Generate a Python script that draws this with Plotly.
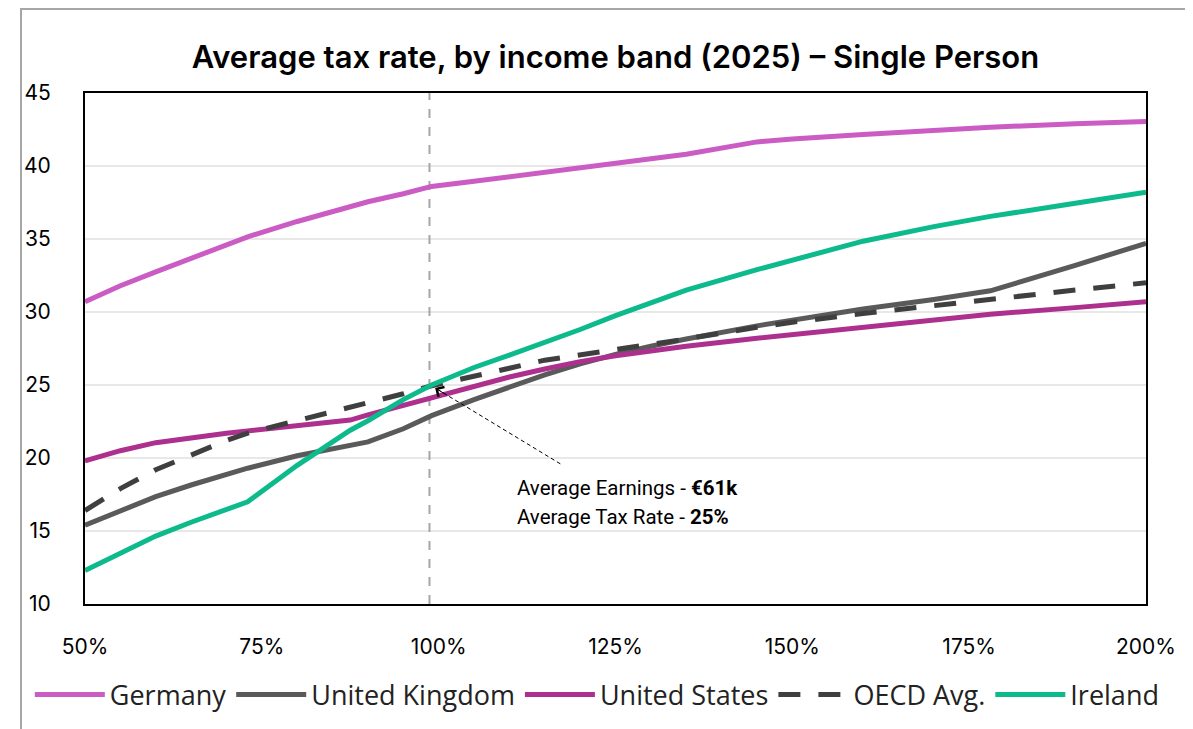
import plotly.graph_objects as go

# Income as % of average earnings
income_pct = [50, 55, 60, 65, 70, 73, 80, 87.5, 90, 95, 99, 105, 110, 115, 120,
              125, 130, 135, 145, 150, 160, 170, 178, 190, 200]

germany = [30.7, 31.8, 32.75, 33.7, 34.6, 35.15, 36.2, 37.2, 37.55, 38.1, 38.6, 38.95,
           39.25, 39.55, 39.85, 40.15, 40.45, 40.8, 41.65, 41.85, 42.15, 42.45, 42.65, 42.9, 43.05]
united_kingdom = [15.4, 16.4, 17.35, 18.15, 18.9, 19.3, 20.15, 20.85, 21.1, 22.0, 22.9, 24.0,
                  24.85, 25.7, 26.45, 27.1, 27.65, 28.15, 29.05, 29.45, 30.2, 30.85, 31.45, 33.2, 34.7]
united_states = [19.8, 20.5, 21.05, 21.4, 21.7, 21.85, 22.2, 22.6, 22.95, 23.6, 24.15, 24.9,
                 25.55, 26.1, 26.6, 27.0, 27.35, 27.65, 28.2, 28.45, 28.95, 29.45, 29.85, 30.3, 30.7]
oecd_avg = [16.4, 17.9, 19.2, 20.2, 21.2, 21.7, 22.55, 23.5, 23.8, 24.4, 24.95, 25.65,
            26.15, 26.7, 27.05, 27.45, 27.8, 28.15, 28.95, 29.3, 29.9, 30.45, 30.85, 31.5, 32.0]
ireland = [12.3, 13.5, 14.65, 15.6, 16.45, 17.0, 19.5, 21.9, 22.55, 24.0, 25.0, 26.2,
           27.05, 27.9, 28.8, 29.75, 30.65, 31.5, 32.9, 33.55, 34.85, 35.85, 36.55, 37.45, 38.2]

x_ticks = [50, 75, 100, 125, 150, 175, 200]
x_ticktext = ["50%", "75%", "100%", "125%", "150%", "175%", "200%"]
y_ticks = [10, 15, 20, 25, 30, 35, 40, 45]

avg_line_x = 98.7
arrow_head = (99.5, 24.8)
arrow_tail = (117.2, 19.6)
note_lines = ["Average Earnings - <b>€61k</b>", "Average Tax Rate - <b>25%</b>"]
note_pos = [(110.8, 17.93), (110.8, 15.95)]

series = [
    ("Germany", germany, "#CA5CC4", "solid"),
    ("United Kingdom", united_kingdom, "#5A5A5A", "solid"),
    ("United States", united_states, "#AD2F8E", "solid"),
    ("OECD Avg.", oecd_avg, "#3F3F3F", "22px,18px"),
    ("Ireland", ireland, "#0DBA8C", "solid"),
]

fig = go.Figure()
for name, vals, color, dash in series:
    fig.add_trace(go.Scatter(
        x=income_pct, y=vals, name=name, mode="lines",
        line=dict(color=color, width=5, dash=dash),
        hoverinfo="skip",
    ))

W, H = 1185, 721
L, T, PW, PH = 77, 85, 1061, 511

fig.update_layout(
    width=W, height=H,
    margin=dict(l=L, r=W - L - PW, t=T, b=H - T - PH, autoexpand=False),
    paper_bgcolor="white", plot_bgcolor="white",
    title=dict(
        text="Average tax rate, by income band (2025) – Single Person",
        font=dict(family="Inter", size=31, color="black", weight=600),
        x=0.5, xref="paper", xanchor="center",
        y=1 - 49 / H, yref="container", yanchor="middle",
    ),
    legend=dict(
        orientation="h", x=-0.052, xanchor="left", y=-0.178, yanchor="middle",
        font=dict(family="Open Sans", size=27, color="#222222"),
        itemwidth=70, bgcolor="rgba(0,0,0,0)", tracegroupgap=0,
    ),
    showlegend=True,
)

fig.update_xaxes(
    range=[50, 200], tickvals=x_ticks, ticktext=x_ticktext,
    showgrid=False, zeroline=False, automargin=False,
    showline=True, linecolor="black", linewidth=2, mirror=True,
    ticks="", ticklabelstandoff=23,
    tickfont=dict(family="Inter", size=21, color="black"),
)
fig.update_yaxes(
    range=[10, 45], tickvals=y_ticks, automargin=False,
    showgrid=True, gridcolor="#E8E8E8", gridwidth=2, zeroline=False,
    showline=True, linecolor="black", linewidth=2, mirror=True,
    ticks="", ticklabelstandoff=28,
    tickfont=dict(family="Inter", size=21, color="black"),
)

# outer grey frame
fig.add_shape(type="rect", xref="paper", yref="paper",
              x0=(13 - L) / PW, x1=(1183.5 - L) / PW,
              y0=(T + PH - 735) / PH, y1=(T + PH - 1) / PH,
              line=dict(color="#A6A6A6", width=2), fillcolor="rgba(0,0,0,0)",
              layer="below")

# white box behind note
fig.add_shape(type="rect", xref="paper", yref="paper",
              x0=(497 - 85) / PW, x1=(855 - 85) / PW,
              y0=(604 - 545) / PH, y1=(604 - 466) / PH,
              line=dict(width=0), fillcolor="white", layer="between")

# average earnings vertical dashed line
fig.add_shape(type="line", x0=avg_line_x, x1=avg_line_x, y0=10, y1=45,
              xref="x", yref="y", line=dict(color="#A6A6A6", width=2, dash="dash"),
              layer="between")

# dashed arrow
fig.add_shape(type="line", x0=arrow_tail[0], y0=arrow_tail[1],
              x1=arrow_head[0], y1=arrow_head[1], xref="x", yref="y",
              line=dict(color="black", width=1, dash="4px,3px"), layer="above")
fig.add_annotation(x=arrow_head[0], y=arrow_head[1], xref="x", yref="y",
                   ax=13, ay=8, text="", showarrow=True,
                   arrowhead=4, arrowsize=2.2, arrowwidth=1, arrowcolor="black")

for txt, (nx, ny) in zip(note_lines, note_pos):
    fig.add_annotation(x=nx, y=ny, xref="x", yref="y", text=txt, showarrow=False,
                       xanchor="left", yanchor="middle",
                       font=dict(family="Roboto", size=20.5, color="black"))

fig.write_html("out.html")
